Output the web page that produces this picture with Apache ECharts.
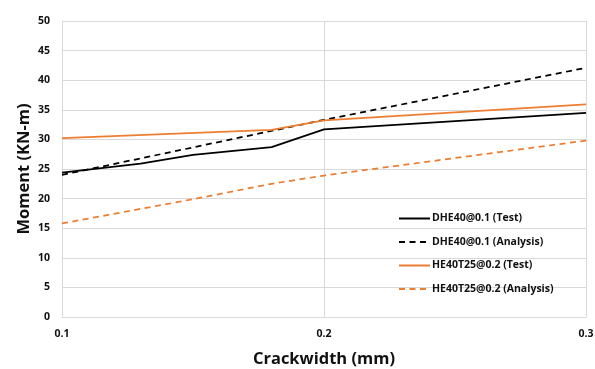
<!DOCTYPE html>
<html>
<head>
<meta charset="utf-8">
<script src="https://cdn.jsdelivr.net/npm/echarts@6/dist/echarts.min.js"></script>
<style>
  html, body { margin: 0; padding: 0; background: #fff; }
  #chart { width: 595px; height: 369px; }
</style>
</head>
<body>
<div id="chart"></div>
<script>
  // crack width (mm) and moment (KN-m)
  const dheTestX = [0.1, 0.13, 0.15, 0.18, 0.2, 0.3];
  const dheTestY = [24.4, 25.9, 27.4, 28.7, 31.7, 34.5];
  const dheAnaX = [0.1, 0.2, 0.3];
  const dheAnaY = [24.0, 33.3, 42.1];
  const heTestX = [0.1, 0.18, 0.2, 0.3];
  const heTestY = [30.2, 31.6, 33.2, 35.9];
  const heAnaX = [0.1, 0.15, 0.18, 0.2, 0.3];
  const heAnaY = [15.8, 19.9, 22.5, 23.9, 29.8];
  const names = [
    'DHE40@0.1 (Test)',
    'DHE40@0.1 (Analysis)',
    'HE40T25@0.2 (Test)',
    'HE40T25@0.2 (Analysis)',
  ];

  const pair = (xs, ys) => xs.map((x, i) => [x, ys[i]]);
  const font = '"Open Sans", "Noto Sans", sans-serif';
  const txt = '#111';

  const mkLine = (name, data, color, dashed) => ({
    name: name,
    type: 'line',
    data: data,
    symbol: 'none',
    animation: false,
    lineStyle: { color: color, width: 1.75, type: dashed ? [6, 4.5] : 'solid' },
    itemStyle: { color: color },
  });

  const chart = echarts.init(document.getElementById('chart'));
  chart.setOption({
    backgroundColor: '#fff',
    grid: { left: 62, right: 9, top: 21, bottom: 52, outerBoundsMode: 'none' },
    legend: {
      orient: 'vertical',
      left: 393,
      top: 208,
      itemWidth: 31,
      itemHeight: 10,
      itemGap: 12.5,
      itemStyle: { opacity: 0 },
      textStyle: { fontFamily: font, fontWeight: 'bold', fontSize: 10.5, color: txt, padding: [0, 0, 0, -3] },
      data: names,
    },
    xAxis: {
      type: 'value',
      min: 0.1,
      max: 0.3,
      interval: 0.1,
      name: 'Crackwidth (mm)',
      nameLocation: 'middle',
      nameGap: 34,
      nameMoveOverlap: false,
      nameTextStyle: { fontFamily: font, fontWeight: 'bold', fontSize: 16.5, color: txt },
      axisLine: { lineStyle: { color: '#d9d9d9' } },
      axisTick: { show: false },
      axisLabel: {
        fontFamily: font, fontWeight: 'bold', fontSize: 10.5, color: txt, margin: 12,
        formatter: v => v.toFixed(1),
      },
      splitLine: { lineStyle: { color: '#d9d9d9' } },
    },
    yAxis: {
      type: 'value',
      min: 0,
      max: 50,
      interval: 5,
      name: 'Moment (KN-m)',
      nameLocation: 'middle',
      nameGap: 29,
      nameMoveOverlap: false,
      nameTextStyle: { fontFamily: font, fontWeight: 'bold', fontSize: 16.5, color: txt },
      axisLine: { show: true, lineStyle: { color: '#d9d9d9' } },
      axisTick: { show: false },
      axisLabel: { fontFamily: font, fontWeight: 'bold', fontSize: 10.5, color: txt, margin: 12 },
      splitLine: { lineStyle: { color: '#d9d9d9' } },
    },
    series: [
      mkLine(names[0], pair(dheTestX, dheTestY), '#000000', false),
      mkLine(names[1], pair(dheAnaX, dheAnaY), '#000000', true),
      mkLine(names[2], pair(heTestX, heTestY), '#ED7D31', false),
      mkLine(names[3], pair(heAnaX, heAnaY), '#ED7D31', true),
    ],
  });
</script>
</body>
</html>
